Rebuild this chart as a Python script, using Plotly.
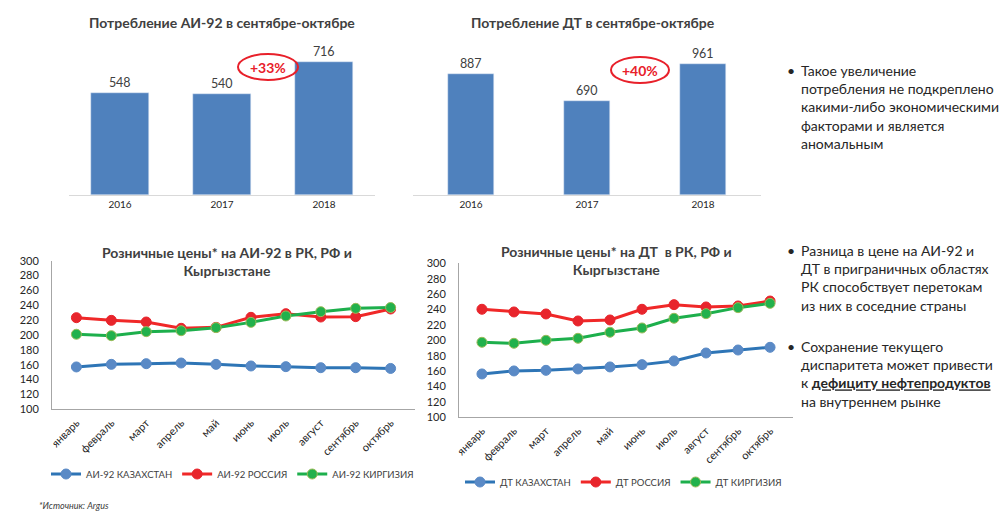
import plotly.graph_objects as go

W, H = 1004, 512
FONT = "Lato"

years = ["2016", "2017", "2018"]
ai92_cons = [548, 540, 716]
dt_cons = [887, 690, 961]

months = ["январь", "февраль", "март", "апрель", "май", "июнь", "июль", "август", "сентябрь", "октябрь"]
ai92_kz = [157, 160.5, 161.4, 162.3, 160.5, 158.3, 157.4, 156, 156, 155]
ai92_ru = [223.3, 219.7, 217.5, 209, 210.3, 223.8, 228.7, 224.2, 224.7, 235]
ai92_kg = [201, 199.1, 204.5, 205.8, 209.9, 217, 225.6, 231.4, 235.9, 237]
dt_kz = [156.3, 160.2, 161, 162.8, 165.4, 168.4, 173.2, 183.5, 187.4, 190.9]
dt_ru = [240.3, 236.8, 234.2, 225.1, 226.4, 240.3, 246.3, 243.3, 244.6, 251]
dt_kg = [197.4, 196.1, 200, 202.6, 210.4, 216, 228.6, 234.6, 242.4, 248]


def px(x):
    return x / W


def py(y):
    return 1 - y / H


fig = go.Figure()

BAR_COLOR = "#4f81bd"
fig.add_trace(go.Bar(x=years, y=ai92_cons, marker_color=BAR_COLOR, width=0.57,
                     text=[str(v) for v in ai92_cons], textposition="outside",
                     textfont=dict(size=12.5, color="#404040", family=FONT),
                     cliponaxis=False, xaxis="x", yaxis="y", showlegend=False))
fig.add_trace(go.Bar(x=years, y=dt_cons, marker_color=BAR_COLOR, width=0.405,
                     text=[str(v) for v in dt_cons], textposition="outside",
                     textfont=dict(size=12.5, color="#404040", family=FONT),
                     cliponaxis=False, xaxis="x2", yaxis="y2", showlegend=False))

BLUE_L, BLUE_M = "#2e75b6", "#5a8ac6"
RED_L, RED_M = "#f02828", "#e8252c"
GREEN_L, GREEN_M = "#1daf4c", "#22b14c"


def line(x, y, name, lc, mc, edge, xa, ya, legend):
    return go.Scatter(x=x, y=y, name=name, mode="lines+markers",
                      line=dict(color=lc, width=3),
                      marker=dict(color=mc, size=10, line=dict(color=edge, width=1)),
                      xaxis=xa, yaxis=ya, legend=legend, cliponaxis=False)


fig.add_trace(line(months, ai92_kz, "АИ-92 КАЗАХСТАН", BLUE_L, BLUE_M, BLUE_M, "x3", "y3", "legend"))
fig.add_trace(line(months, ai92_ru, "АИ-92 РОССИЯ", RED_L, RED_M, RED_M, "x3", "y3", "legend"))
fig.add_trace(line(months, ai92_kg, "АИ-92 КИРГИЗИЯ", GREEN_L, GREEN_M, "#9bbb59", "x3", "y3", "legend"))
fig.add_trace(line(months, dt_kz, "ДТ КАЗАХСТАН", BLUE_L, BLUE_M, BLUE_M, "x4", "y4", "legend2"))
fig.add_trace(line(months, dt_ru, "ДТ РОССИЯ", RED_L, RED_M, RED_M, "x4", "y4", "legend2"))
fig.add_trace(line(months, dt_kg, "ДТ КИРГИЗИЯ", GREEN_L, GREEN_M, "#9bbb59", "x4", "y4", "legend2"))

AXC = "#d9d9d9"
LAXC = "#a6a6a6"
tickf = dict(size=10, color="#262626", family=FONT)
mtickf = dict(size=11, color="#262626", family=FONT)

layout = dict(
    width=W, height=H, margin=dict(l=0, r=0, t=0, b=0, autoexpand=False),
    paper_bgcolor="white", plot_bgcolor="white",
    font=dict(family=FONT, color="#262626"),
    bargap=0,
    xaxis=dict(domain=[px(69), px(375)], showline=True, linecolor=AXC, linewidth=1,
               ticks="", tickfont=tickf, anchor="y", type="category", showgrid=False,
               automargin=False),
    yaxis=dict(domain=[py(195), py(46)], range=[0, 800], visible=False, anchor="x"),
    xaxis2=dict(domain=[px(413), px(761)], showline=True, linecolor=AXC, linewidth=1,
                ticks="", tickfont=tickf, anchor="y2", type="category", showgrid=False,
                automargin=False),
    yaxis2=dict(domain=[py(195), py(45)], range=[0, 1100], visible=False, anchor="x2"),
    xaxis3=dict(domain=[px(52), px(415)], showline=True, linecolor=LAXC, linewidth=1,
                ticks="", tickfont=mtickf, tickangle=-45, anchor="y3", type="category",
                showgrid=False, automargin=False, ticklabelstandoff=2),
    yaxis3=dict(domain=[py(409.3), py(260.7)], range=[100, 300], dtick=20, showline=True,
                linecolor=LAXC, linewidth=1, showgrid=False, zeroline=False,
                tickfont=mtickf, anchor="x3", ticks="", ticklabelstandoff=10, automargin=False),
    xaxis4=dict(domain=[px(459), px(793)], showline=True, linecolor=LAXC, linewidth=1,
                ticks="", tickfont=mtickf, tickangle=-45, anchor="y4", type="category",
                showgrid=False, automargin=False, ticklabelstandoff=2),
    yaxis4=dict(domain=[py(417.3), py(263.3)], range=[100, 300], dtick=20, showline=True,
                linecolor=LAXC, linewidth=1, showgrid=False, zeroline=False,
                tickfont=mtickf, anchor="x4", ticks="", ticklabelstandoff=10, automargin=False),
    legend=dict(orientation="h", x=px(46), y=py(474), xanchor="left", yanchor="middle",
                font=dict(size=9.5, color="#404040", family=FONT), bgcolor="rgba(0,0,0,0)",
                itemwidth=30, tracegroupgap=0),
    legend2=dict(orientation="h", x=px(460), y=py(482), xanchor="left", yanchor="middle",
                 font=dict(size=9.5, color="#404040", family=FONT), bgcolor="rgba(0,0,0,0)",
                 itemwidth=30, tracegroupgap=0),
)
fig.update_layout(**layout)

ann = []
title_font = dict(size=14, color="#404040", family=FONT)
ann.append(dict(text="<b>Потребление АИ-92 в сентябре-октябре</b>", x=px(222), y=py(22),
                font=title_font))
ann.append(dict(text="<b>Потребление ДТ в сентябре-октябре</b>", x=px(593), y=py(22),
                font=title_font))
ann.append(dict(text="<b>Розничные цены* на АИ-92 в РК, РФ и<br>Кыргызстане</b>", x=px(227), y=py(261),
                font=title_font))
ann.append(dict(text="<b>Розничные цены* на ДТ  в РК, РФ и<br>Кыргызстане</b>", x=px(616), y=py(260),
                font=title_font))
ann.append(dict(text="<b>+33%</b>", x=px(268), y=py(67), font=dict(size=14, color="#e8202a", family=FONT)))
ann.append(dict(text="<b>+40%</b>", x=px(640), y=py(70), font=dict(size=14, color="#e8202a", family=FONT)))
ann.append(dict(text="<i>*Источник: Argus</i>", x=px(37), y=py(505), xanchor="left",
                font=dict(size=9, color="#404040", family=FONT)))

body = dict(size=14, color="#262626", family=FONT)
bullets = [
    (70, "Такое увеличение<br>потребления не подкреплено<br>какими-либо экономическими<br>факторами и является<br>аномальным"),
    (250, "Разница в цене на АИ-92 и<br>ДТ в приграничных областях<br>РК способствует перетокам<br>из них в соседние страны"),
    (346, "Сохранение текущего<br>диспаритета может привести<br>к <b><u>дефициту нефтепродуктов</u></b><br>на внутреннем рынке"),
]
for ytop, txt in bullets:
    ann.append(dict(text="•", x=px(785), y=py(ytop), xanchor="left", yanchor="middle", font=body))
    ann.append(dict(text=txt, x=px(799), y=py(ytop - 10), xanchor="left", yanchor="top",
                    align="left", font=body))

for a in ann:
    a.setdefault("xref", "paper")
    a.setdefault("yref", "paper")
    a.setdefault("showarrow", False)
    a.setdefault("xanchor", "center")
    a.setdefault("yanchor", "middle")
fig.update_layout(annotations=ann)

shapes = [
    dict(type="circle", xref="paper", yref="paper", x0=px(238), x1=px(298), y0=py(80), y1=py(54),
         line=dict(color="#e8202a", width=2)),
    dict(type="circle", xref="paper", yref="paper", x0=px(611), x1=px(669), y0=py(83), y1=py(57),
         line=dict(color="#e8202a", width=2)),
]
fig.update_layout(shapes=shapes)

fig.write_html("out.html", config={"displayModeBar": False},
               post_script="document.body.style.margin='0';document.body.style.overflow='hidden';")
